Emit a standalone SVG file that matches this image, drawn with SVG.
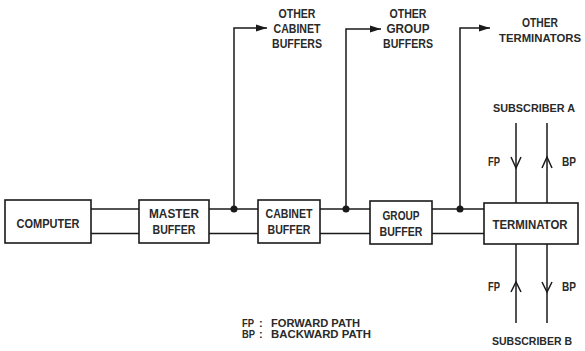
<svg xmlns="http://www.w3.org/2000/svg" width="585" height="351" viewBox="0 0 585 351">
<defs>
<style>
.box{fill:#fff;stroke:#1a1a1a;stroke-width:1.6}
.ln{fill:none;stroke:#1a1a1a;stroke-width:1.5}
.t{font-family:"Liberation Sans",Arial,sans-serif;font-weight:bold;font-size:12.5px;fill:#2a2a2a;text-anchor:middle}
.n{font-size:11px}
.s{font-family:"Liberation Sans",Arial,sans-serif;font-weight:bold;font-size:11px;fill:#2a2a2a}
.dot{fill:#1a1a1a}
</style>
<marker id="ah" markerWidth="12" markerHeight="8" refX="11" refY="4" orient="auto" markerUnits="userSpaceOnUse">
<path d="M0,0.5 L11,4 L0,7.5 Z" fill="#1a1a1a"/>
</marker>
</defs>
<rect width="585" height="351" fill="#fff"/>
<g id="connectors">
<line class="ln" x1="91" y1="209" x2="139" y2="209"/>
<line class="ln" x1="91" y1="233.5" x2="139" y2="233.5"/>
<line class="ln" x1="209" y1="209" x2="258" y2="209"/>
<line class="ln" x1="209" y1="233.5" x2="258" y2="233.5"/>
<line class="ln" x1="320" y1="209" x2="370" y2="209"/>
<line class="ln" x1="320" y1="233.5" x2="370" y2="233.5"/>
<line class="ln" x1="432" y1="209" x2="484" y2="209"/>
<line class="ln" x1="432" y1="233.5" x2="484" y2="233.5"/>
<circle class="dot" cx="234" cy="209" r="3.5"/>
<circle class="dot" cx="346" cy="209" r="3.5"/>
<circle class="dot" cx="460" cy="209" r="3.5"/>
<path class="ln" d="M234,209 V28 H267" marker-end="url(#ah)"/>
<path class="ln" d="M346,209 V29 H381" marker-end="url(#ah)"/>
<path class="ln" d="M460,209 V28 H490" marker-end="url(#ah)"/>
<line class="ln" x1="516" y1="123" x2="516" y2="203"/>
<line class="ln" x1="547" y1="123" x2="547" y2="203"/>
<line class="ln" x1="516" y1="244" x2="516" y2="323"/>
<line class="ln" x1="547" y1="244" x2="547" y2="323"/>
<path class="ln" d="M511,157 L516,168 L521,157"/>
<path class="ln" d="M542,168 L547,157 L552,168"/>
<path class="ln" d="M511,292 L516,282 L521,292"/>
<path class="ln" d="M542,282 L547,292 L552,282"/>
</g>
<g id="computer">
<rect class="box" x="5" y="200" width="86" height="43"/>
<text class="t" x="48" y="228" textLength="63" lengthAdjust="spacingAndGlyphs">COMPUTER</text>
</g>
<g id="master-buffer">
<rect class="box" x="139" y="200" width="70" height="43"/>
<text class="t" x="174" y="218" textLength="50" lengthAdjust="spacingAndGlyphs">MASTER</text>
<text class="t" x="174" y="234" textLength="43" lengthAdjust="spacingAndGlyphs">BUFFER</text>
</g>
<g id="cabinet-buffer">
<rect class="box" x="258" y="200" width="62" height="43"/>
<text class="t" x="289" y="218" textLength="47" lengthAdjust="spacingAndGlyphs">CABINET</text>
<text class="t" x="289" y="234" textLength="43" lengthAdjust="spacingAndGlyphs">BUFFER</text>
</g>
<g id="group-buffer">
<rect class="box" x="370" y="201" width="62" height="43"/>
<text class="t" x="401" y="220" textLength="37" lengthAdjust="spacingAndGlyphs">GROUP</text>
<text class="t" x="401" y="236" textLength="43" lengthAdjust="spacingAndGlyphs">BUFFER</text>
</g>
<g id="terminator">
<rect class="box" x="484" y="203" width="94" height="41"/>
<text class="t" x="530" y="229" textLength="75" lengthAdjust="spacingAndGlyphs">TERMINATOR</text>
</g>
<g id="other-cabinet-buffers">
<text class="t" x="297" y="18" textLength="37" lengthAdjust="spacingAndGlyphs">OTHER</text>
<text class="t" x="297" y="33" textLength="47" lengthAdjust="spacingAndGlyphs">CABINET</text>
<text class="t" x="297" y="48" textLength="50" lengthAdjust="spacingAndGlyphs">BUFFERS</text>
</g>
<g id="other-group-buffers">
<text class="t" x="408" y="18" textLength="37" lengthAdjust="spacingAndGlyphs">OTHER</text>
<text class="t" x="408" y="33" textLength="43" lengthAdjust="spacingAndGlyphs">GROUP</text>
<text class="t" x="408" y="48" textLength="50" lengthAdjust="spacingAndGlyphs">BUFFERS</text>
</g>
<g id="other-terminators">
<text class="t" x="540" y="27" textLength="36" lengthAdjust="spacingAndGlyphs">OTHER</text>
<text class="t n" x="540" y="42" textLength="82" lengthAdjust="spacingAndGlyphs">TERMINATORS</text>
</g>
<g id="subscriber-a">
<text class="t n" x="534" y="112" textLength="82" lengthAdjust="spacingAndGlyphs">SUBSCRIBER A</text>
<text class="t" x="494" y="166" textLength="12" lengthAdjust="spacingAndGlyphs">FP</text>
<text class="t" x="569" y="166" textLength="14" lengthAdjust="spacingAndGlyphs">BP</text>
</g>
<g id="subscriber-b">
<text class="t" x="494" y="291" textLength="12" lengthAdjust="spacingAndGlyphs">FP</text>
<text class="t" x="569" y="291" textLength="14" lengthAdjust="spacingAndGlyphs">BP</text>
<text class="t n" x="532" y="345" textLength="80" lengthAdjust="spacingAndGlyphs">SUBSCRIBER B</text>
</g>
<g id="legend">
<text class="s" x="242" y="327" textLength="12" lengthAdjust="spacingAndGlyphs">FP</text>
<text class="s" x="259" y="327">:</text>
<text class="s" x="271" y="327" textLength="89" lengthAdjust="spacingAndGlyphs">FORWARD PATH</text>
<text class="s" x="242" y="338" textLength="13" lengthAdjust="spacingAndGlyphs">BP</text>
<text class="s" x="259" y="338">:</text>
<text class="s" x="271" y="338" textLength="100" lengthAdjust="spacingAndGlyphs">BACKWARD PATH</text>
</g>
</svg>
